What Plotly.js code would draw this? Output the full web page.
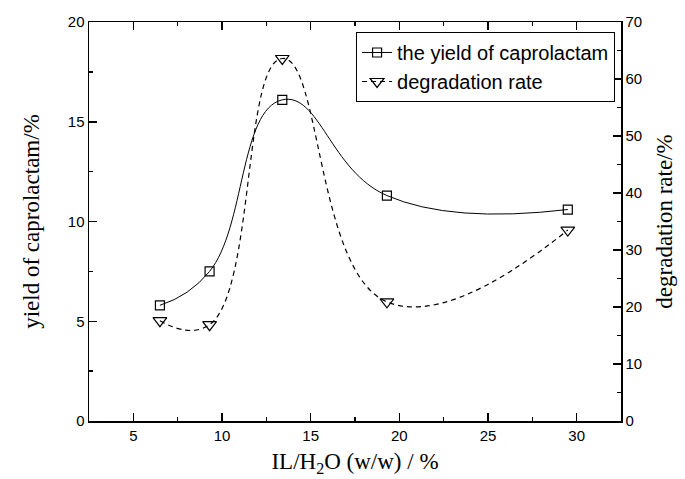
<!DOCTYPE html>
<html>
<head>
<meta charset="utf-8">
<script src="https://cdn.plot.ly/plotly-3.0.1.min.js"></script>
<style>html,body{margin:0;padding:0;background:#fff;}#chart{width:685px;height:479px;}</style>
</head>
<body>
<div id="chart"></div>
<script>
// Data
const ratio = [6.5, 9.3, 13.4, 19.3, 29.5];            // IL/H2O (w/w) / %
const yieldCaprolactam = [5.8, 7.5, 16.1, 11.3, 10.6];   // %
const degradationRate = [17.6, 16.9, 63.6, 20.9, 33.5];  // %
const seriesNames = ["the yield of caprolactam", "degradation rate"];
const xTicks = [5, 10, 15, 20, 25, 30];
const yTicks = [0, 5, 10, 15, 20];
const y2Ticks = [0, 10, 20, 30, 40, 50, 60, 70];

const traces = [
  {
    x: ratio, y: yieldCaprolactam, name: seriesNames[0],
    type: 'scatter', mode: 'lines+markers',
    line: {shape: 'spline', smoothing: 1.3, color: '#000', width: 1},
    marker: {symbol: 'square-open', size: 9, color: '#000', line: {width: 1.2, color: '#000'}},
    xaxis: 'x', yaxis: 'y'
  },
  {
    x: ratio, y: degradationRate, name: seriesNames[1],
    type: 'scatter', mode: 'lines+markers',
    line: {shape: 'spline', smoothing: 1.3, color: '#000', width: 1.2, dash: '5px,4px'},
    marker: {symbol: 'triangle-down-open', size: 12, color: '#000', line: {width: 1.2, color: '#000'}},
    xaxis: 'x', yaxis: 'y2'
  }
];

const tickFont = {family: 'Liberation Sans, Arial, sans-serif', size: 15, color: '#000'};
const titleFont = {family: 'Liberation Serif, Times New Roman, serif', size: 23, color: '#000'};

const layout = {
  width: 685, height: 479,
  margin: {l: 89, r: 64, t: 22, b: 58, pad: 0},
  paper_bgcolor: '#fff', plot_bgcolor: '#fff',
  showlegend: true,
  legend: {
    x: 0.502, y: 0.975, xanchor: 'left', yanchor: 'top',
    bgcolor: '#fff', bordercolor: '#000', borderwidth: 1,
    font: {family: 'Liberation Sans, Arial, sans-serif', size: 20, color: '#000'},
    itemwidth: 30, tracegroupgap: 0
  },
  xaxis: {
    range: [2.5, 32.5], tickvals: xTicks, ticktext: xTicks.map(String),
    ticks: 'inside', ticklen: 8, tickwidth: 1.5, tickcolor: '#000',
    minor: {dtick: 2.5, tick0: 0, ticks: 'inside', ticklen: 4, tickwidth: 1.5, tickcolor: '#000'},
    showline: true, linecolor: '#000', linewidth: 1.5, mirror: 'ticks',
    showgrid: false, zeroline: false, tickfont: tickFont,
    title: {text: 'IL/H<sub>2</sub>O (w/w) / %', font: titleFont, standoff: 10}
  },
  yaxis: {
    range: [0, 20], tickvals: yTicks, ticktext: yTicks.map(String),
    ticks: 'inside', ticklen: 8, tickwidth: 1.5, tickcolor: '#000',
    minor: {dtick: 2.5, tick0: 0, ticks: 'inside', ticklen: 4, tickwidth: 1.5, tickcolor: '#000'},
    showline: true, linecolor: '#000', linewidth: 1.5,
    showgrid: false, zeroline: false, tickfont: tickFont,
    title: {text: 'yield of caprolactam/%', font: titleFont, standoff: 22}
  },
  yaxis2: {
    range: [0, 70], tickvals: y2Ticks, ticktext: y2Ticks.map(String),
    overlaying: 'y', side: 'right',
    ticks: 'inside', ticklen: 8, tickwidth: 1.5, tickcolor: '#000',
    minor: {dtick: 5, tick0: 0, ticks: 'inside', ticklen: 4, tickwidth: 1.5, tickcolor: '#000'},
    showline: true, linecolor: '#000', linewidth: 1.5,
    showgrid: false, zeroline: false, tickfont: tickFont,
    title: {text: 'degradation rate/%', font: titleFont, standoff: 14}
  }
};

Plotly.newPlot('chart', traces, layout, {displayModeBar: false, staticPlot: true});
</script>
</body>
</html>
